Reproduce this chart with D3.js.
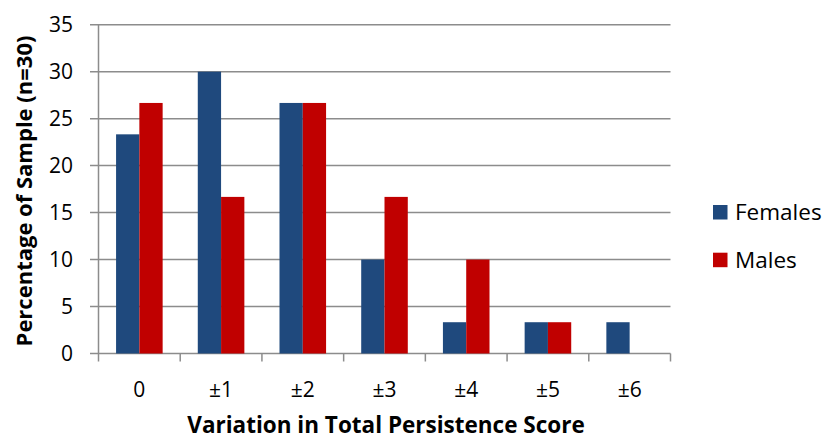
<!DOCTYPE html>
<html><head><meta charset="utf-8">
<script src="https://cdn.jsdelivr.net/npm/d3@7"></script>
<style>body{margin:0;background:#fff}svg{display:block}text{font-family:"Open Sans",sans-serif}</style>
</head><body><svg id="c" width="825" height="439"></svg>
<script>
const categories = ["0","±1","±2","±3","±4","±5","±6"];
const females = [23.33,30,26.67,10,3.33,3.33,3.33];
const males = [26.67,16.67,26.67,16.67,10,3.33,0];
const seriesNames = ["Females","Males"];
const seriesColors = ["#1F497D","#C00000"];
const yTicks = [0,5,10,15,20,25,30,35];

const svg = d3.select("#c");
const L=98.5, R=670.5, T=24.7, B=353.5;
const x = d3.scaleBand().domain(categories).range([L,R]).paddingInner(0.43).paddingOuter(0.215);
const xs = d3.scaleBand().domain(seriesNames).range([0,x.bandwidth()]);
const y = d3.scaleLinear().domain([0,35]).range([B,T]);
const grid="#8c8c8c";

svg.append("g").selectAll("line").data(yTicks).join("line")
 .attr("x1",90).attr("x2",R).attr("y1",d=>y(d)).attr("y2",d=>y(d))
 .attr("stroke",grid).attr("stroke-width",1.5);
svg.append("line").attr("x1",L).attr("x2",L).attr("y1",T).attr("y2",B).attr("stroke",grid).attr("stroke-width",1.5);
const bounds = d3.range(categories.length+1).map(i=>L+i*(R-L)/categories.length);
svg.append("g").selectAll("line").data(bounds).join("line")
 .attr("x1",d=>d).attr("x2",d=>d).attr("y1",B).attr("y2",B+8).attr("stroke",grid).attr("stroke-width",1.5);

const data = categories.map((c,i)=>({c, v:[females[i],males[i]]}));
const g = svg.append("g").selectAll("g").data(data).join("g").attr("transform",d=>`translate(${x(d.c)},0)`);
g.selectAll("rect").data(d=>d.v.map((v,j)=>({v,s:seriesNames[j],j}))).join("rect")
 .attr("x",d=>xs(d.s)).attr("width",xs.bandwidth())
 .attr("y",d=>y(d.v)).attr("height",d=>y(0)-y(d.v))
 .attr("fill",d=>seriesColors[d.j]);

svg.append("g").selectAll("text").data(yTicks).join("text")
 .attr("x",73).attr("y",d=>y(d)).attr("dy","0.36em").attr("text-anchor","end")
 .attr("font-size",21).attr("fill","#000").text(d=>d);
svg.append("g").selectAll("text").data(categories).join("text")
 .attr("x",d=>x(d)+x.bandwidth()/2).attr("y",397).attr("text-anchor","middle")
 .attr("font-size",21).attr("fill","#000").text(d=>d);
svg.append("text").attr("x",386).attr("y",433).attr("text-anchor","middle")
 .attr("font-size",22.5).attr("font-weight","bold").text("Variation in Total Persistence Score");
svg.append("text").attr("transform","translate(32,191) rotate(-90)").attr("text-anchor","middle")
 .attr("font-size",22).attr("font-weight","bold").text("Percentage of Sample (n=30)");
const lg = svg.append("g").selectAll("g").data(seriesNames).join("g")
 .attr("transform",(d,i)=>`translate(713,${205+i*47.7})`);
lg.append("rect").attr("width",14.5).attr("height",14.5).attr("fill",(d,i)=>seriesColors[i]);
lg.append("text").attr("x",22).attr("y",15).attr("font-size",22.5).text(d=>d);
</script></body></html>
